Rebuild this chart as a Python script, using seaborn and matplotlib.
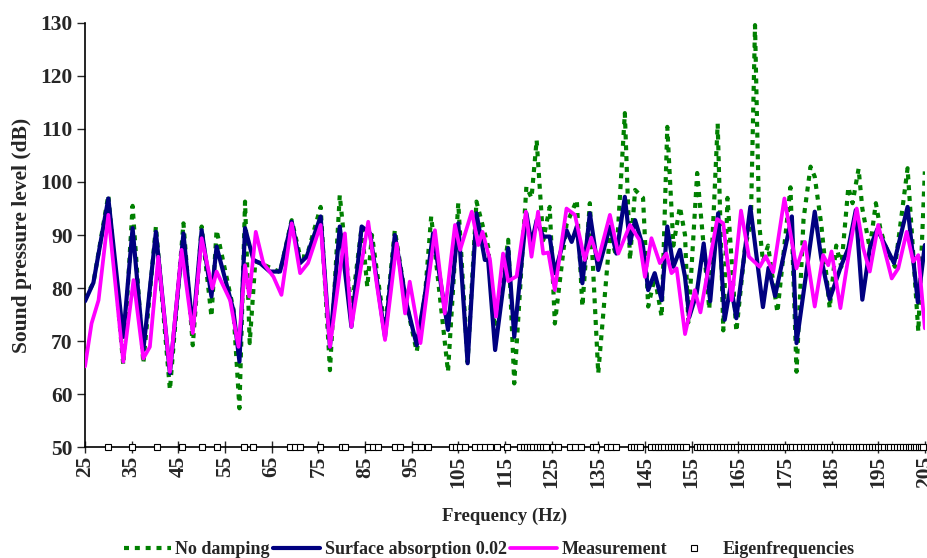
# Sound pressure level vs frequency - simulated vs measured room response
import numpy as np
import pandas as pd
import matplotlib
matplotlib.use("Agg")
import matplotlib.pyplot as plt
import seaborn as sns

# --- data ---
nodamp_f = [25, 26.8, 30, 33.2, 35.2, 37.5, 40.2, 43.2, 46.1, 48.1, 50, 52.1, 53.2, 56.8, 58.1, 59.3,
            60.3, 61.5, 62.5, 66.8, 69.3, 71.1, 72.5, 75.5, 77.5, 79.6, 82.1, 84.3, 85.5, 86.5, 89.3,
            91.4, 93.9, 96.1, 97.9, 99.2, 102.8, 105, 107, 108.9, 111.4, 112.9, 115.7, 117, 119.6,
            120.7, 121.8, 123.2, 124.6, 125.7, 128.2, 130.4, 131.6, 133.2, 135, 137.5, 138.9, 140.7,
            141.8, 142.9, 144.6, 145.7, 147.1, 148.6, 149.8, 151.1, 152.5, 153.6, 154.3, 156.2, 158.8,
            160.6, 161.8, 162.7, 164.6, 166.5, 167.7, 168.6, 169.5, 170.3, 171.4, 173.4, 176.2, 177.5,
            179, 180.5, 181.4, 182.8, 184.6, 186, 187.1, 188.6, 189.5, 190.8, 191.6, 193.2, 194.5,
            195.5, 196.5, 198.6, 201.3, 203.6, 205]
nodamp_db = [78, 81, 97.5, 65.5, 95.5, 65.8, 91.6, 60.8, 92.2, 69.2, 91.6, 74.6, 90.9, 76, 57.3, 96.3,
             69.6, 85, 84.7, 83, 92.8, 86, 85.9, 95.3, 64.5, 97.5, 75.8, 91.6, 80.2, 90, 72,
             90.9, 77, 68, 79, 93.5, 64.2, 96, 66, 96.3, 87.8, 71.5, 89.1, 62, 99.1,
             97, 107.9, 89, 95.3, 73.3, 92, 96.6, 76.5, 96, 63.9, 90, 86, 113,
             85.3, 98.5, 97, 76.5, 82, 74.6, 110.4, 88, 95.3, 90, 73.5, 101.7, 76,
             111, 72, 97, 71.8, 88, 92, 129.6, 92, 85, 88, 75.4, 99, 64.2,
             93, 102.9, 101, 92, 76.2, 88, 84, 99, 96, 102.5, 95, 87.5, 96,
             91, 88, 84, 102.6, 71.8, 102]

surf_f = [25, 26.8, 30, 33.2, 35.2, 37.5, 40.2, 43.2, 46.1, 48.1, 50, 52.1, 53.2, 56.8, 58.1, 59.3,
          61.1, 62.5, 64.6, 66.8, 69.3, 71.1, 72.5, 75.5, 77.5, 79.6, 82.1, 84.3, 86.1, 89.3, 91.4,
          93.9, 96.1, 97.9, 99.6, 102.8, 105, 107, 108.9, 110.7, 111.4, 112.9, 115.7, 117, 119.6,
          120.7, 121.8, 123.2, 124.6, 125.7, 128.2, 129.3, 130.4, 131.6, 133.2, 135, 137.5, 138.9,
          140.7, 141.8, 142.9, 144.6, 145.7, 147.1, 148.6, 149.8, 151.1, 152.5, 153.6, 154.5, 156.1,
          157.6, 159, 160.7, 162.1, 163.4, 164.6, 167.6, 170.3, 171.5, 172.9, 176.5, 177.5, 181.4,
          182.8, 184.6, 187.1, 188.6, 190.2, 191.6, 193.2, 194.8, 198.4, 201.3, 203.5, 205]
surf_db = [77.5, 81, 96.9, 70.8, 91.3, 68.3, 90.6, 63.9, 90.3, 72.1, 90.9, 78.4, 87.8, 75.8, 66.1, 91.3,
           85.3, 84.7, 83.1, 83.1, 92.5, 84.7, 85.9, 93.5, 68.9, 91.6, 72.7, 91.6, 90.3, 70.8, 90,
           77.1, 69.2, 79, 90.3, 72.1, 92.2, 65.8, 94.1, 85.3, 85.3, 68.3, 87.5, 70.8, 94.1,
           88.4, 92.8, 89.7, 89.7, 82.8, 90.9, 88.7, 91.6, 80.9, 94.1, 83.4, 91.6, 86.5,
           97.2, 88.4, 92.8, 87.8, 79.6, 82.8, 77.7, 91.6, 84, 87.2, 82.1, 74.5, 79,
           88.4, 77.5, 94.1, 74, 80.5, 74.3, 95.3, 76.4, 83.8, 78.5, 93.5, 69.6, 94.4,
           85.6, 77.9, 84.3, 87.5, 94.7, 77.8, 87.5, 91.1, 84.7, 95.3, 77.3, 88.1]

meas_f = [25, 26.4, 27.9, 30, 33.2, 35.4, 37.5, 38.9, 40.7, 43.2, 45.7, 48.1, 50, 52.3, 53.2, 56.1,
          57.9, 59.3, 60.2, 61.6, 63.2, 65.4, 67.1, 69.3, 71.1, 72.8, 75.5, 77.5, 80.7, 82.1, 85.7,
          87.5, 89.3, 91.8, 93.6, 94.6, 96.9, 100, 102.1, 104.3, 105.4, 107.9, 109.3, 110.2, 111.8,
          113.1, 114.6, 115.7, 117.5, 119.5, 120.7, 122.1, 123.2, 124.3, 125.7, 128.2, 130, 132.1,
          133.5, 135, 137.5, 139.3, 141.8, 143.8, 145, 146.4, 148.2, 149.6, 150.7, 151.8, 153.6,
          155.7, 156.9, 160.5, 161.8, 163.6, 165.6, 167.3, 169.6, 170.9, 172.5, 174.9, 177.5, 179.3,
          181.4, 183.2, 184.3, 185, 186.9, 188.9, 190.4, 191.8, 193.2, 195, 197.9, 199.3, 201.1,
          202.5, 203.6, 205]
meas_db = [65.2, 73.3, 77.7, 93.8, 66.1, 81.5, 66.7, 68.9, 85.9, 64.2, 87.2, 71.5, 89.4, 79.9, 83.1, 77.7,
           68.9, 84.3, 78.4, 90.6, 84.7, 82.1, 78.7, 92.2, 82.8, 84.7, 91.9, 68.9, 90.3, 72.7, 92.5,
           80.9, 70.2, 88.4, 75.2, 81.2, 69.6, 90.9, 75.2, 91.9, 87.2, 94.4, 88.1, 90.6, 85.3,
           74.6, 86.5, 81.3, 82.2, 94.4, 85.9, 94.4, 86.5, 86.7, 79.6, 95, 93.8, 85.3,
           89.5, 85.3, 93.8, 86.5, 91.9, 89.1, 82.1, 89.4, 84.7, 86.5, 82.8, 83.7, 71.3,
           79.6, 75.4, 93, 92.2, 77.7, 94.6, 85.9, 84, 86, 83, 96.9, 83.7, 88.7,
           76.5, 86.2, 84.3, 86.9, 76.2, 87.5, 95, 87.5, 83.1, 91.9, 81.8, 83.7, 90.6,
           85, 86.2, 72.4]

eigen_f = [30.0, 35.0, 40.4, 45.7, 50.0, 53.2, 59.1, 60.9, 68.9, 70.0, 71.1, 75.4, 80.0, 80.7,
           85.7, 86.8, 87.8, 91.4, 92.5, 95.7, 97.1, 98.6, 103.6, 104.6, 105.4, 106.4, 108.6,
           109.6, 110.7, 111.8, 113.2, 115.4, 118.2, 119.0, 119.7, 120.4, 121.1, 121.8, 122.5,
           123.2, 123.9, 125.3, 126.4, 128.9, 130.0, 131.4, 133.9, 134.6, 136.8, 137.8, 138.9,
           142.1, 142.7, 143.3, 143.9, 146.4, 147.1, 147.8, 148.5, 149.2, 149.9, 150.7, 151.3,
           151.9, 152.5, 153.1, 153.9, 156.1, 156.8, 157.5, 158.2, 159.0, 159.7, 160.4, 161.1,
           161.8, 162.5, 163.3, 164.0, 164.8, 165.5, 166.2, 166.9, 167.6, 168.3, 169.0, 169.8,
           170.5, 171.2, 172.0, 172.6, 173.3, 174.0, 174.7, 175.3, 176.0, 176.6, 177.3, 178.2,
           179.0, 179.8, 180.5, 181.2, 181.9, 182.6, 183.3, 184.0, 184.7, 185.4, 186.1, 186.8,
           187.5, 188.2, 188.8, 189.5, 190.2, 190.9, 191.6, 192.3, 193.0, 193.6, 194.3, 195.0,
           195.6, 196.3, 197.0, 197.6, 198.3, 199.0, 199.6, 200.3, 200.9, 201.5, 202.1, 202.7,
           203.2, 203.7, 204.2, 204.6]
eigen_level = 50

x_ticks = list(range(25, 206, 10))
y_ticks = list(range(50, 131, 10))

# --- style ---
sns.set_style("white")
plt.rcParams["font.family"] = ["Liberation Serif", "DejaVu Serif"]
plt.rcParams["font.weight"] = "bold"

fig = plt.figure(figsize=(9.28, 5.58), dpi=100)
ax = fig.add_axes([0.0916, 0.1989, 0.905, 0.7599])

sns.lineplot(x=nodamp_f, y=nodamp_db, ax=ax, color="#008000", lw=3.0,
             linestyle=(0, (1.2, 1.4)), label="No damping", zorder=2)
sns.lineplot(x=surf_f, y=surf_db, ax=ax, color="#000080", lw=3.0,
             label="Surface absorption 0.02", zorder=3)
sns.lineplot(x=meas_f, y=meas_db, ax=ax, color="#FF00FF", lw=2.7,
             label="Measurement", zorder=4)
ax.plot(eigen_f, [eigen_level] * len(eigen_f), linestyle="none", marker="s",
        markersize=4.5, markerfacecolor="white", markeredgecolor="black",
        markeredgewidth=0.8, clip_on=False, zorder=5, label="Eigenfrequencies")

ax.set_xlim(25, 205)
ax.set_ylim(50, 130)
ax.set_xticks(x_ticks)
ax.set_yticks(y_ticks)
ax.set_xticklabels([str(t) for t in x_ticks], rotation=90, fontsize=15.5, fontweight="bold")
ax.set_yticklabels([str(t) for t in y_ticks], fontsize=15.5, fontweight="bold")
ax.tick_params(axis="x", direction="inout", length=9, width=1, pad=2, bottom=True)
ax.tick_params(axis="y", direction="out", length=6, width=1, pad=3, left=True)

for side in ["top", "right"]:
    ax.spines[side].set_visible(False)
for side in ["left", "bottom"]:
    ax.spines[side].set_color("black")
    ax.spines[side].set_linewidth(1.2)

ax.set_xlabel("Frequency (Hz)", fontsize=13.5, fontweight="bold", labelpad=14)
ax.set_ylabel("Sound pressure level (dB)", fontsize=15.5, fontweight="bold", labelpad=6)

handles, labels = ax.get_legend_handles_labels()
ax.legend_.remove()
fig.legend(handles, labels, loc="lower center", bbox_to_anchor=(0.527, -0.03), ncol=4,
           frameon=False, handlelength=2.6, handletextpad=0.25, columnspacing=0.2,
           prop={"weight": "bold", "size": 13})

fig.savefig("out.png", dpi=100, facecolor="white")
